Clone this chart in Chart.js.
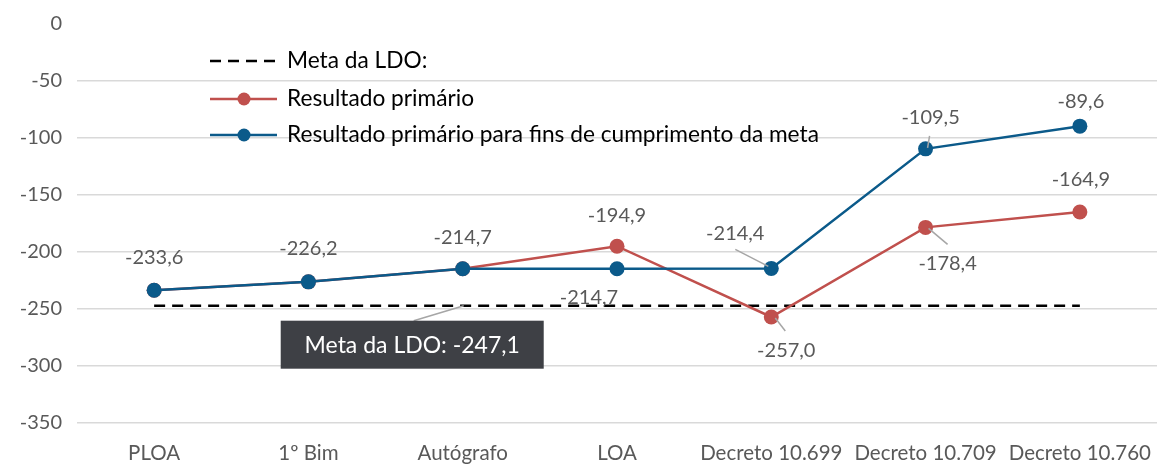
<!DOCTYPE html>
<html><head><meta charset="utf-8">
<script src="https://cdn.jsdelivr.net/npm/chart.js"></script>
<style>html,body{margin:0;padding:0;background:#fff}#wrap{width:1159px;height:464px}</style>
</head><body><div id="wrap"><canvas id="c" width="1159" height="464"></canvas></div>
<script>
const categories = ['PLOA','1º Bim','Autógrafo','LOA','Decreto 10.699','Decreto 10.709','Decreto 10.760'];
const metaLDO = [-247.1,-247.1,-247.1,-247.1,-247.1,-247.1,-247.1];
const resultadoPrimario = [-233.6,-226.2,-214.7,-194.9,-257.0,-178.4,-164.9];
const resultadoParaMeta = [-233.6,-226.2,-214.7,-214.7,-214.4,-109.5,-89.6];
const yMin = -350, yMax = 0, yStep = 50;

const FONT = 'Lato, "Open Sans", sans-serif';
const RED = '#C0504D', BLUE = '#0B5A8A', GRAYTXT = '#595959', LEADER = '#A6A6A6';

// label placement: dataset index, point index, text offset, optional leader (relative to point)
const labelSpecs = [
  {ds:0,i:0,dx:0,dy:-33},
  {ds:0,i:1,dx:0,dy:-33},
  {ds:0,i:2,dx:0,dy:-31},
  {ds:0,i:3,dx:-28,dy:29},
  {ds:0,i:4,dx:-36,dy:-35,lead:[-36,-19,-3,-2]},
  {ds:0,i:5,dx:5,dy:-31,lead:[4,-13,2,-1]},
  {ds:0,i:6,dx:1,dy:-25},
  {ds:1,i:3,dx:0,dy:-31},
  {ds:1,i:4,dx:15,dy:34,lead:[4,1,14,14]},
  {ds:1,i:5,dx:22,dy:36,lead:[3,1,22,17]},
  {ds:1,i:6,dx:1,dy:-32}
];
const fmt = v => v.toFixed(1).replace('.', ',');

const labelPlugin = {
  id:'labels',
  afterDatasetsDraw(chart){
    const ctx = chart.ctx;
    ctx.save();
    ctx.font = '20px ' + FONT;
    ctx.textAlign = 'center'; ctx.textBaseline = 'middle';
    labelSpecs.forEach(s=>{
      const el = chart.getDatasetMeta(s.ds).data[s.i];
      const v = chart.data.datasets[s.ds].data[s.i];
      if (s.lead){
        ctx.strokeStyle = LEADER; ctx.lineWidth = 1.5;
        ctx.beginPath(); ctx.moveTo(el.x+s.lead[0], el.y+s.lead[1]); ctx.lineTo(el.x+s.lead[2], el.y+s.lead[3]); ctx.stroke();
      }
      ctx.fillStyle = GRAYTXT;
      ctx.fillText(fmt(v), el.x+s.dx, el.y+s.dy);
    });
    // Meta callout
    const m = chart.getDatasetMeta(2).data[2];
    const mv = chart.data.datasets[2].data[2];
    ctx.strokeStyle = LEADER; ctx.lineWidth = 1.5;
    ctx.beginPath(); ctx.moveTo(m.x-49, m.y+15); ctx.lineTo(m.x+1, m.y); ctx.stroke();
    const bx = m.x-182, by = m.y+15, bw = 263, bh = 48;
    ctx.fillStyle = '#3E4045';
    ctx.fillRect(bx, by, bw, bh);
    ctx.fillStyle = '#FFFFFF';
    ctx.font = '23px ' + FONT;
    ctx.fillText('Meta da LDO: ' + fmt(mv), bx + bw/2, by + bh/2 + 1);
    // Legend
    const items = [
      {text:'Meta da LDO:', color:'#000', dash:true, y:61},
      {text:'Resultado primário', color:RED, dash:false, y:99},
      {text:'Resultado primário para fins de cumprimento da meta', color:BLUE, dash:false, y:135}
    ];
    ctx.textAlign = 'left';
    items.forEach(it=>{
      ctx.strokeStyle = it.color;
      ctx.lineWidth = 2.5;
      ctx.setLineDash(it.dash ? [11,7] : []);
      ctx.beginPath(); ctx.moveTo(210, it.y); ctx.lineTo(277, it.y); ctx.stroke();
      ctx.setLineDash([]);
      if (!it.dash){
        ctx.fillStyle = it.color;
        ctx.beginPath(); ctx.arc(244, it.y, 6.5, 0, Math.PI*2); ctx.fill();
      }
      ctx.fillStyle = '#000';
      ctx.font = '22.7px ' + FONT;
      ctx.fillText(it.text, 287, it.y);
    });
    ctx.restore();
  }
};

new Chart(document.getElementById('c'), {
  type:'line',
  data:{
    labels:categories,
    datasets:[
      {label:'Resultado primário para fins de cumprimento da meta', data:resultadoParaMeta, borderColor:BLUE, backgroundColor:BLUE,
       borderWidth:2.5, pointRadius:7.5, pointHoverRadius:7.5, pointBackgroundColor:BLUE, pointBorderWidth:0, tension:0, order:0},
      {label:'Resultado primário', data:resultadoPrimario, borderColor:RED, backgroundColor:RED,
       borderWidth:2.5, pointRadius:7.5, pointHoverRadius:7.5, pointBackgroundColor:RED, pointBorderWidth:0, tension:0, order:1},
      {label:'Meta da LDO:', data:metaLDO, borderColor:'#000', borderWidth:2.5, borderDash:[11,7], pointRadius:0, tension:0, order:2}
    ]
  },
  options:{
    responsive:false, animation:false,
    layout:{autoPadding:false, padding:{top:24,right:2,left:0,bottom:0}},
    plugins:{legend:{display:false}, tooltip:{enabled:false}},
    scales:{
      x:{
        offset:true,
        grid:{display:true, drawOnChartArea:false, drawTicks:true, tickLength:16, color:'rgba(0,0,0,0)'},
        border:{display:false},
        ticks:{color:GRAYTXT, font:{size:20.5, family:FONT}, padding:2, maxRotation:0, autoSkip:false},
        afterFit(s){ s.height = 41; s.paddingLeft = 0; s.paddingRight = 0; }
      },
      y:{
        min:yMin, max:yMax,
        grid:{color:ctx=> ctx.tick && ctx.tick.value===0 ? 'rgba(0,0,0,0)' : '#D9D9D9', lineWidth:1.5, drawTicks:false},
        border:{display:false},
        ticks:{stepSize:yStep, color:GRAYTXT, font:{size:20, family:FONT}, padding:15},
        afterFit(s){ s.width = 77; s.paddingTop = 0; s.paddingBottom = 0; }
      }
    }
  },
  plugins:[labelPlugin]
});
</script></body></html>
